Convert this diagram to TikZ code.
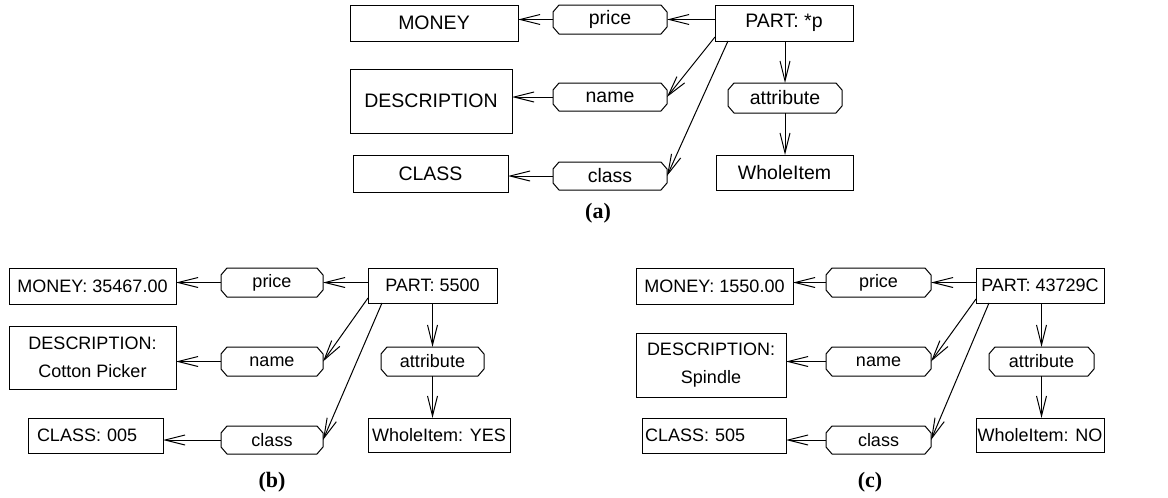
\documentclass[tikz,border=0pt]{standalone}
\usepackage{fontspec}
\setmainfont{Liberation Sans}
\newfontfamily\capfont{Liberation Serif}
\usetikzlibrary{arrows.meta}

% octagonal frame with cut corners around a relation node
\newcommand\relframe[1]{%
  \draw[line width=1pt]
    ([xshift=6pt]#1.north west) -- ([xshift=-6pt]#1.north east)
    -- ([yshift=-7pt]#1.north east) -- ([yshift=7pt]#1.south east)
    -- ([xshift=-6pt]#1.south east) -- ([xshift=6pt]#1.south west)
    -- ([yshift=7pt]#1.south west) -- ([yshift=-7pt]#1.north west) -- cycle;}

\begin{document}
\begin{tikzpicture}[x=1pt,y=-1pt,
  every node/.style={inner sep=0pt, outer sep=0pt},
  box/.style={draw, line width=1pt, rectangle, align=center},
  leftbox/.style={draw, line width=1pt, rectangle, align=left},
  rel/.style={rectangle},
  link/.style={line width=1pt, -{Straight Barb[length=20pt,width=10pt]}},
  fa/.style={font=\fontsize{19.5}{24}\selectfont},
  fb/.style={font=\fontsize{18}{28.5}\selectfont},
  caption/.style={font=\capfont\bfseries\fontsize{22}{26}\selectfont}]
\useasboundingbox (0,0) rectangle (1168,498);

% ---------- (a) generic graph ----------
\begin{scope}[fa]
\node[box, minimum width=168pt, minimum height=36pt] (moneyA) at (434,23) {MONEY};
\node[rel, minimum width=114pt, minimum height=29pt] (priceA) at (610,19.5) {price};
\node[box, minimum width=138pt, minimum height=36pt] (partA) at (784,23) {PART: *p};
\node[box, minimum width=162pt, minimum height=64pt] (descA) at (431,101) {DESCRIPTION};
\node[rel, minimum width=114pt, minimum height=28pt] (nameA) at (610,97) {name};
\node[rel, minimum width=114pt, minimum height=30pt] (attrA) at (785,98) {attribute};
\node[box, minimum width=155pt, minimum height=37pt] (classboxA) at (430.5,173.5) {CLASS};
\node[rel, minimum width=114pt, minimum height=28pt] (classA) at (610,176) {class};
\node[box, minimum width=137pt, minimum height=35pt] (wholeA) at (784.5,172.5) {WholeItem};
\end{scope}
\relframe{priceA}\relframe{nameA}\relframe{attrA}\relframe{classA}
\node[caption] (capA) at (598,213) {(a)};

\draw[link] (partA.west |- priceA.east) -- (priceA.east);
\draw[link] (priceA.west) -- (moneyA.east |- priceA.west);
\draw[link] ([yshift=4pt]partA.south west) -- (nameA.east);
\draw[link] (nameA.west) -- (descA.east |- nameA.west);
\draw[link] ([xshift=13pt]partA.south west) -- (classA.east);
\draw[link] (classA.west) -- (classboxA.east |- classA.west);
\draw[link] (attrA.north |- partA.south) -- (attrA.north);
\draw[link] (attrA.south) -- (attrA.south |- wholeA.north);

% ---------- (b) part 5500 ----------
\begin{scope}[fb]
\node[box, minimum width=167pt, minimum height=36pt] (moneyB) at (92.5,286) {MONEY: 35467.00};
\node[rel, minimum width=102pt, minimum height=29pt] (priceB) at (272,282.5) {price};
\node[box, minimum width=129pt, minimum height=35pt] (partB) at (432.5,285.5) {PART: 5500};
\node[box, minimum width=167pt, minimum height=63pt] (descB) at (92.5,357.5) {DESCRIPTION:\\Cotton Picker};
\node[rel, minimum width=102pt, minimum height=29pt] (nameB) at (272,361.5) {name};
\node[rel, minimum width=103pt, minimum height=29pt] (attrB) at (432.5,361.5) {attribute};
\node[leftbox, inner xsep=9pt, text width=117pt, minimum height=35pt] (classboxB) at (95.5,435.5) {CLASS: 005};
\node[rel, minimum width=102pt, minimum height=28pt] (classB) at (272,440) {class};
\node[box, minimum width=142pt, minimum height=34pt] (wholeB) at (439,435) {WholeItem: YES};
\end{scope}
\relframe{priceB}\relframe{nameB}\relframe{attrB}\relframe{classB}
\node[caption] (capB) at (272,482) {(b)};

\draw[link] (partB.west |- priceB.east) -- (priceB.east);
\draw[link] (priceB.west) -- (moneyB.east |- priceB.west);
\draw[link] ([yshift=5pt]partB.south west) -- (nameB.east);
\draw[link] (nameB.west) -- (descB.east |- nameB.west);
\draw[link] ([xshift=14pt]partB.south west) -- (classB.east);
\draw[link] (classB.west) -- (classboxB.east |- classB.west);
\draw[link] (attrB.north |- partB.south) -- (attrB.north);
\draw[link] (attrB.south) -- (attrB.south |- wholeB.north);

% ---------- (c) part 43729C ----------
\begin{scope}[fb]
\node[box, minimum width=157pt, minimum height=36pt] (moneyC) at (714.5,286) {MONEY: 1550.00};
\node[rel, minimum width=105pt, minimum height=29pt] (priceC) at (878.5,282.5) {price};
\node[box, minimum width=128pt, minimum height=35pt] (partC) at (1040,285.5) {PART: 43729C};
\node[box, minimum width=150pt, minimum height=64pt] (descC) at (711,365) {DESCRIPTION:\\Spindle};
\node[rel, minimum width=105pt, minimum height=29pt] (nameC) at (878.5,361.5) {name};
\node[rel, minimum width=105pt, minimum height=29pt] (attrC) at (1041.5,361.5) {attribute};
\node[leftbox, inner xsep=3pt, text width=138pt, minimum height=35pt] (classboxC) at (714,435.5) {CLASS: 505};
\node[rel, minimum width=105pt, minimum height=28pt] (classC) at (878.5,440) {class};
\node[box, minimum width=128pt, minimum height=34pt] (wholeC) at (1040,435) {WholeItem: NO};
\end{scope}
\relframe{priceC}\relframe{nameC}\relframe{attrC}\relframe{classC}
\node[caption] (capC) at (870,482) {(c)};

\draw[link] (partC.west |- priceC.east) -- (priceC.east);
\draw[link] (priceC.west) -- (moneyC.east |- priceC.west);
\draw[link] ([yshift=4pt]partC.south west) -- (nameC.east);
\draw[link] (nameC.west) -- (descC.east |- nameC.west);
\draw[link] ([xshift=13pt]partC.south west) -- (classC.east);
\draw[link] (classC.west) -- (classboxC.east |- classC.west);
\draw[link] (attrC.north |- partC.south) -- (attrC.north);
\draw[link] (attrC.south) -- (attrC.south |- wholeC.north);
\end{tikzpicture}
\end{document}
